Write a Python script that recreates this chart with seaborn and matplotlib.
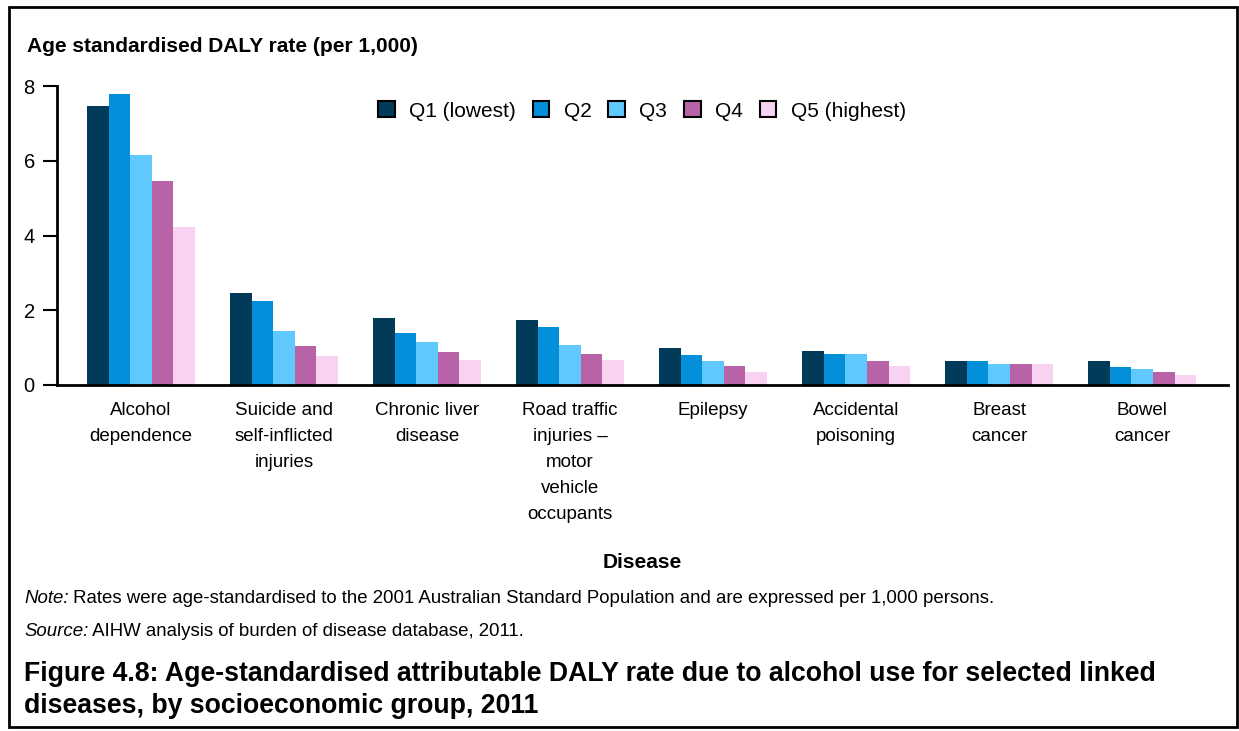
import pandas as pd
import matplotlib.pyplot as plt
import matplotlib.patches as mpatches
import seaborn as sns

# Data: age standardised DALY rate (per 1,000) by socioeconomic group
diseases = ['Alcohol\ndependence', 'Suicide and\nself-inflicted\ninjuries', 'Chronic liver\ndisease',
            'Road traffic\ninjuries \u2013\nmotor\nvehicle\noccupants', 'Epilepsy',
            'Accidental\npoisoning', 'Breast\ncancer', 'Bowel\ncancer']
groups = ['Q1 (lowest)', 'Q2', 'Q3', 'Q4', 'Q5 (highest)']
q1 = [7.46, 2.46, 1.78, 1.75, 1.00, 0.92, 0.63, 0.63]
q2 = [7.78, 2.25, 1.40, 1.54, 0.79, 0.84, 0.63, 0.49]
q3 = [6.15, 1.44, 1.14, 1.08, 0.63, 0.82, 0.55, 0.44]
q4 = [5.45, 1.04, 0.87, 0.82, 0.52, 0.63, 0.57, 0.36]
q5 = [4.22, 0.78, 0.68, 0.68, 0.36, 0.52, 0.55, 0.28]
colors = ['#023a5a', '#038fd9', '#5fc9fe', '#b863a8', '#f9d2f2']

df = pd.DataFrame({
    'disease': diseases * 5,
    'group': [g for g in groups for _ in diseases],
    'rate': q1 + q2 + q3 + q4 + q5,
})

sns.set_style('white')
plt.rcParams['font.family'] = ['Liberation Sans', 'DejaVu Sans']
plt.rcParams['text.color'] = 'black'
plt.rcParams['xtick.color'] = 'black'
plt.rcParams['ytick.color'] = 'black'

W, H = 1239, 731
fig = plt.figure(figsize=(W / 100, H / 100), dpi=100)
ax = fig.add_axes([57 / W, 1 - 385 / H, (1228 - 57) / W, (385 - 86) / H])

sns.barplot(data=df, x='disease', y='rate', hue='group', palette=colors,
            width=0.755, gap=0, saturation=1, linewidth=0, ax=ax, legend=False)

ax.set_xlim(-0.587, 7.60)
ax.set_ylim(0, 8)
ax.set_yticks([0, 2, 4, 6, 8])
ax.set_xticks(range(len(diseases)), diseases, linespacing=1.7, va='top')
ax.set_xlabel('')
ax.set_ylabel('')
sns.despine(ax=ax)
for side in ['left', 'bottom']:
    ax.spines[side].set_linewidth(2)
    ax.spines[side].set_color('black')
ax.tick_params(axis='y', length=10, width=1.5, direction='out', pad=6, labelsize=14.5, left=True)
ax.tick_params(axis='x', length=0, pad=12, labelsize=13.5)

# legend with black-edged squares
handles = [mpatches.Patch(facecolor=c, edgecolor='black', linewidth=1.5, label=g)
           for c, g in zip(colors, groups)]
fig.legend(handles=handles, loc='center', bbox_to_anchor=(642 / W, 1 - 111 / H),
           ncol=5, frameon=False, fontsize=15, handlelength=0.8, handleheight=0.8,
           handletextpad=0.7, columnspacing=0.8)

# titles and notes
fig.text(27 / W, 1 - 47 / H, 'Age standardised DALY rate (per 1,000)', fontsize=15,
         fontweight='bold', va='center', ha='left')
fig.text(642 / W, 1 - 562 / H, 'Disease', fontsize=15, fontweight='bold', va='center', ha='center')

note = fig.text(24 / W, 1 - 603 / H, 'Note:', fontsize=13.4, style='italic', va='baseline', ha='left')
ax.annotate(' Rates were age-standardised to the 2001 Australian Standard Population and are expressed per 1,000 persons.',
            xy=(1, 0), xycoords=note, va='bottom', ha='left', fontsize=13.4, annotation_clip=False)
src = fig.text(24 / W, 1 - 636 / H, 'Source:', fontsize=13.4, style='italic', va='baseline', ha='left')
ax.annotate(' AIHW analysis of burden of disease database, 2011.',
            xy=(1, 0), xycoords=src, va='bottom', ha='left', fontsize=13.4, annotation_clip=False)

fig.text(24 / W, 1 - 690 / H,
         'Figure 4.8: Age-standardised attributable DALY rate due to alcohol use for selected linked\n'
         'diseases, by socioeconomic group, 2011',
         fontsize=19.2, fontweight='bold', va='center', ha='left', linespacing=1.3)

# outer border
fig.add_artist(mpatches.Rectangle((9 / W, 1 - 727 / H), (1237 - 9) / W, (727 - 7) / H,
                                  transform=fig.transFigure, fill=False, edgecolor='black', linewidth=2))

plt.savefig('out.png', dpi=100)
